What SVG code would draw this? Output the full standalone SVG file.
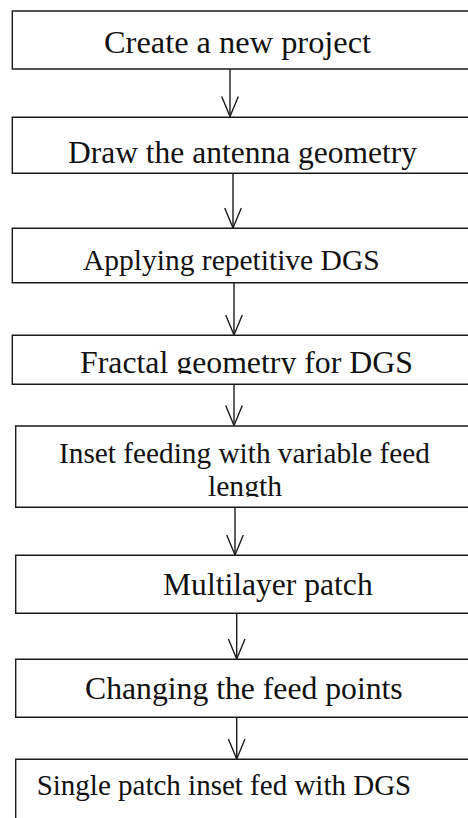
<svg xmlns="http://www.w3.org/2000/svg" width="468" height="818" viewBox="0 0 468 818">
  <style>
    .box { fill: #ffffff; stroke: #1a1a1a; stroke-width: 1.4; }
    .lbl { font-family: "Liberation Serif", "Times New Roman", serif; fill: #111111; }
    .link { stroke: #1a1a1a; stroke-width: 1.4; fill: none; }
  </style>
  <defs>
    <!-- open V arrowhead, tip at the end of the connector -->
    <marker id="vee" markerUnits="userSpaceOnUse" markerWidth="24" markerHeight="20" viewBox="-22 -10 24 20" refX="0" refY="0" orient="auto">
      <path d="M-20,-8.3 L0,0 L-20,8.3" fill="none" stroke="#1a1a1a" stroke-width="1.4"/>
    </marker>
    <clipPath id="clipFractal"><rect x="0" y="330" width="468" height="44"/></clipPath>
    <clipPath id="clipLength"><rect x="0" y="470" width="468" height="27"/></clipPath>
  </defs>

  <g id="connectors">
    <line class="link" x1="230" y1="69" x2="230" y2="116.5" marker-end="url(#vee)"/>
    <line class="link" x1="233" y1="173.5" x2="233" y2="228" marker-end="url(#vee)"/>
    <line class="link" x1="234" y1="282.5" x2="234" y2="335" marker-end="url(#vee)"/>
    <line class="link" x1="234" y1="384.5" x2="234" y2="425.5" marker-end="url(#vee)"/>
    <line class="link" x1="235" y1="507.5" x2="235" y2="555" marker-end="url(#vee)"/>
    <line class="link" x1="236.7" y1="613.5" x2="236.7" y2="659" marker-end="url(#vee)"/>
    <line class="link" x1="236.7" y1="717.5" x2="236.7" y2="759" marker-end="url(#vee)"/>
  </g>

  <!-- boxes run off the right edge of the page, so only top, left and bottom sides are drawn -->
  <g id="node-create">
    <path class="box" d="M472,11 H12.3 V69 H472"/>
    <text class="lbl" x="104" y="53.3" font-size="32.4">Create a new project</text>
  </g>

  <g id="node-draw">
    <path class="box" d="M472,117.3 H12.3 V173.3 H472"/>
    <text class="lbl" x="68" y="163.3" font-size="31.5">Draw the antenna geometry</text>
  </g>

  <g id="node-repetitive">
    <path class="box" d="M472,228.3 H12.3 V282.7 H472"/>
    <text class="lbl" x="83" y="270" font-size="29.5">Applying repetitive DGS</text>
  </g>

  <g id="node-fractal">
    <path class="box" d="M472,335.3 H12.3 V384.3 H472"/>
    <text class="lbl" x="80" y="372.7" font-size="31.8" clip-path="url(#clipFractal)">Fractal geometry for DGS</text>
  </g>

  <g id="node-inset">
    <path class="box" d="M472,426 H15.7 V507.3 H472"/>
    <text class="lbl" x="59" y="463.3" font-size="29.3">Inset feeding with variable feed</text>
    <text class="lbl" x="208" y="496" font-size="29.6" clip-path="url(#clipLength)">length</text>
  </g>

  <g id="node-multilayer">
    <path class="box" d="M472,555.3 H15.7 V613.3 H472"/>
    <text class="lbl" x="163" y="595" font-size="31.6">Multilayer patch</text>
  </g>

  <g id="node-feedpoints">
    <path class="box" d="M472,659.3 H15.7 V717.3 H472"/>
    <text class="lbl" x="85" y="699.3" font-size="31.7">Changing the feed points</text>
  </g>

  <g id="node-single">
    <path class="box" d="M472,759.3 H15.7 V822"/>
    <text class="lbl" x="36.7" y="795" font-size="29">Single patch inset fed with DGS</text>
  </g>
</svg>
